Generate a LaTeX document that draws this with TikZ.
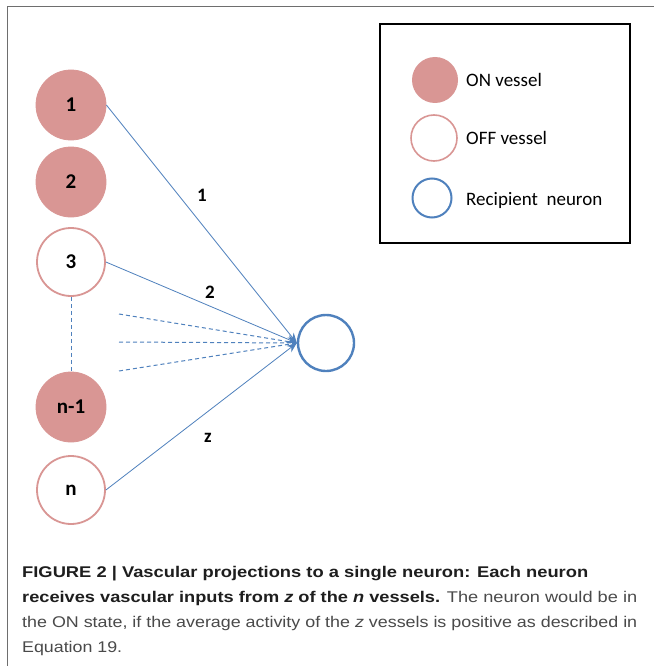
\documentclass[tikz,border=0pt]{standalone}
\usepackage{fontspec}
\usepackage{graphicx}
\setmainfont{Carlito}
\newfontfamily\capfont{Liberation Sans}
\usetikzlibrary{arrows.meta}
\definecolor{onpink}{HTML}{D99694}
\definecolor{lineblue}{HTML}{4F81BD}
\definecolor{framegray}{HTML}{6E6E6E}
\definecolor{captxt}{HTML}{4A4A4A}
\definecolor{capbold}{HTML}{1E1E1E}
\tikzset{
  onvessel/.style={circle, fill=onpink, draw=onpink, line width=0.8pt, minimum size=70pt, inner sep=0pt, font=\fontsize{21}{24}\selectfont\bfseries},
  offvessel/.style={circle, fill=white, draw=onpink, line width=1.8pt, minimum size=68pt, inner sep=0pt, font=\fontsize{21}{24}\selectfont\bfseries},
  neuronstyle/.style={circle, draw=lineblue, line width=2.4pt, minimum size=56pt, inner sep=0pt},
  conn/.style={draw=lineblue, line width=0.8pt, -{Stealth[length=10pt,width=8pt]}},
  dconn/.style={draw=lineblue, line width=1pt, dash pattern=on 4pt off 3pt},
  elabel/.style={font=\fontsize{19}{22}\selectfont\bfseries, inner sep=0pt},
  legtext/.style={anchor=west, font=\fontsize{19}{22}\selectfont, inner sep=0pt},
  capline/.style={anchor=base west, inner sep=0pt, font=\capfont\fontsize{15.5}{18}\selectfont},
}
\begin{document}
\begin{tikzpicture}[x=1pt,y=-1pt]
\useasboundingbox (0,0) rectangle (654,666);
\fill[white] (0,0) rectangle (654,666);
% outer frame
\draw[framegray, line width=1.4pt] (7.5,666) -- (7.5,6.5) -- (654,6.5);

% vessels
\node[onvessel] (v1) at (71,105) {1};
\node[onvessel] (v2) at (71,182) {2};
\node[offvessel] (v3) at (71,262) {3};
\node[onvessel] (vn1) at (71,407) {n-1};
\node[offvessel] (vn) at (71,490) {n};

% neuron
\node[neuronstyle] (neuron) at (326,343) {};

% dashed helper coordinates
\coordinate (d1) at (119,314);
\coordinate (d2) at (119,342);
\coordinate (d3) at (119,371);

% connectors
\draw[dconn] (v3.south) -- (vn1.north);
\draw[dconn] (d1) -- (neuron.west);
\draw[dconn] (d2) -- (neuron.west);
\draw[dconn] (d3) -- (neuron.west);
\draw[conn] (v1.east) -- (neuron.west);
\draw[conn] (v3.east) -- (neuron.west);
\draw[conn] (vn.east) -- (neuron.west);

% connector labels
\node[elabel] (l1) at (202,195) {1};
\node[elabel] (l2) at (210,292) {2};
\node[elabel] (lz) at (208,438) {z};

% legend
\draw[black, line width=1.8pt] (380,24) rectangle (630,243);
\node[circle, fill=onpink, minimum size=46pt, inner sep=0pt] (lon) at (435,80) {};
\node[circle, draw=onpink, line width=1.6pt, minimum size=46pt, inner sep=0pt] (loff) at (434,138) {};
\node[circle, draw=lineblue, line width=2pt, minimum size=39pt, inner sep=0pt] (lrec) at (432,198) {};
\node[legtext] (ton) at (466,80) {ON vessel};
\node[legtext] (toff) at (466,138) {OFF vessel};
\node[legtext] (trec) at (466,200) {Recipient\ \ neuron};

% caption
\node[capline, text=capbold] (c1) at (22,577) {\resizebox{566pt}{\height}{\bfseries FIGURE 2 | Vascular projections to a single neuron: Each neuron}};
\node[capline, text=captxt] (c2) at (22,602) {\resizebox{615pt}{\height}{{\color{capbold}\bfseries receives vascular inputs from \textit{z} of the \textit{n} vessels.} The neuron would be in}};
\node[capline, text=captxt] (c3) at (22,627) {\resizebox{615pt}{\height}{the ON state, if the average activity of the \textit{z} vessels is positive as described in}};
\node[capline, text=captxt] (c4) at (22,652) {\resizebox{100pt}{\height}{Equation 19.}};
\end{tikzpicture}
\end{document}
